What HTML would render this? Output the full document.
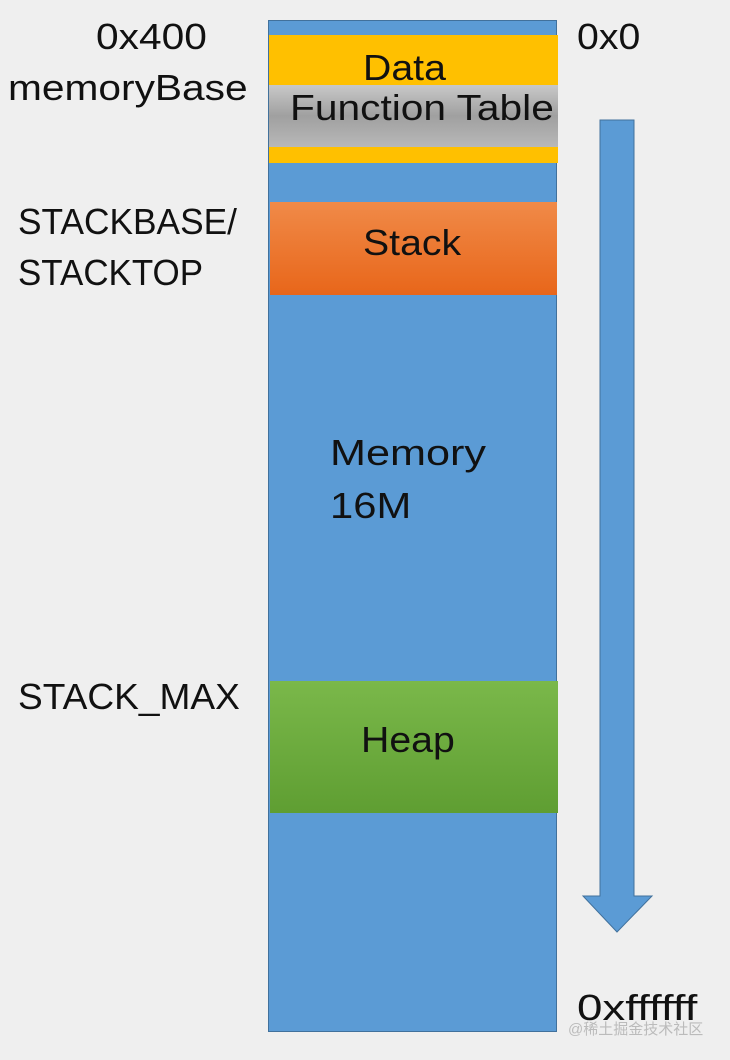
<!DOCTYPE html>
<html><head><style>
body{margin:0;width:730px;height:1060px;background:#efefef;position:relative;overflow:hidden;font-family:"Liberation Sans",sans-serif;color:#111}
div{position:absolute}
.t{font-size:36px;line-height:1;white-space:nowrap;transform-origin:0 50%}
</style></head><body>
<div style="left:268px;top:20px;width:289px;height:1012px;background:#5b9bd5;border:1px solid #41719c;box-sizing:border-box"></div>
<div style="left:269px;top:35px;width:289px;height:128px;background:#ffc000"></div>
<div style="left:269px;top:85px;width:289px;height:62px;background:linear-gradient(#c8c8c8,#a0a0a0 50%,#b8b8b8)"></div>
<div style="left:270px;top:202px;width:287px;height:93px;background:linear-gradient(#f08a48,#e8661a)"></div>
<div style="left:270px;top:681px;width:288px;height:132px;background:linear-gradient(#7ab84a,#5f9e32)"></div>
<svg style="position:absolute;left:0;top:0" width="730" height="1060">
<polygon points="600,120 634,120 634,896 652,896 617,932 583,896 600,896" fill="#5b9bd5" stroke="#41719c" stroke-width="1"/>
</svg>
<div class="t" style="left:96px;top:19px;transform:scaleX(1.13)">0x400</div>
<div class="t" style="left:8px;top:70px;transform:scaleX(1.13)">memoryBase</div>
<div class="t" style="left:18px;top:204px;transform:scaleX(0.98)">STACKBASE/</div>
<div class="t" style="left:18px;top:255px;transform:scaleX(0.97)">STACKTOP</div>
<div class="t" style="left:18px;top:679px;transform:scaleX(1.03)">STACK_MAX</div>
<div class="t" style="left:577px;top:19px;transform:scaleX(1.09)">0x0</div>
<div class="t" style="left:577px;top:990px;transform:scaleX(1.27)">0xffffff</div>
<div class="t" style="left:363px;top:50px;transform:scaleX(1.09)">Data</div>
<div class="t" style="left:290px;top:90px;transform:scaleX(1.13)">Function Table</div>
<div class="t" style="left:363px;top:225px;transform:scaleX(1.09)">Stack</div>
<div class="t" style="left:330px;top:435px;transform:scaleX(1.2)">Memory</div>
<div class="t" style="left:330px;top:488px;transform:scaleX(1.16)">16M</div>
<div class="t" style="left:361px;top:722px;transform:scaleX(1.09)">Heap</div>
<div style="left:568px;top:1018px;font-size:15px;color:#bbb;font-family:'Liberation Sans','Noto Sans CJK SC',sans-serif">@稀土掘金技术社区</div>
</body></html>
